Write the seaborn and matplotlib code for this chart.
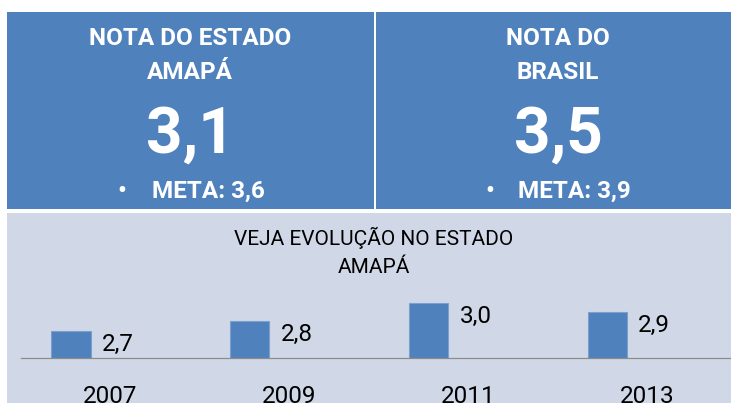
import pandas as pd
import numpy as np
import matplotlib.pyplot as plt
import seaborn as sns
from matplotlib.patches import Rectangle

# dados do painel
anos = ['2007', '2009', '2011', '2013']
notas_amapa = [2.7, 2.8, 3.0, 2.9]
series = ['Série 1', 'Série 2', 'Série 3']

nota_estado = '3,1'
meta_estado = 'META: 3,6'
nota_brasil = '3,5'
meta_brasil = 'META: 3,9'

df = pd.DataFrame({'Ano': anos, 'Nota': notas_amapa, 'Série': series[0]})

sns.set_style('white')
plt.rcParams['font.family'] = ['Roboto', 'DejaVu Sans']

W, H = 731, 403
fig = plt.figure(figsize=(W / 100, H / 100), dpi=100)
fig.patch.set_facecolor('white')

azul = '#4F81BD'
cinza = '#D0D8E8'


def fx(px):
    return px / W


def fy(py):
    return 1 - py / H


# caixas de fundo
fig.add_artist(Rectangle((fx(7), fy(209)), fx(367), 197 / H, transform=fig.transFigure,
                         facecolor=azul, edgecolor='none', zorder=-5))
fig.add_artist(Rectangle((fx(376), fy(209)), fx(370), 197 / H, transform=fig.transFigure,
                         facecolor=azul, edgecolor='none', zorder=-5))
fig.add_artist(Rectangle((fx(7), fy(410)), fx(730), 197 / H, transform=fig.transFigure,
                         facecolor=cinza, edgecolor='none', zorder=-5))

# textos das caixas azuis
for cx, l1, l2, nota, meta, bx, tx in [
    (190, 'NOTA DO ESTADO', 'AMAPÁ', nota_estado, meta_estado, 121.5, 152),
    (558, 'NOTA DO', 'BRASIL', nota_brasil, meta_brasil, 490, 518),
]:
    fig.text(fx(cx), fy(45), l1, color='white', fontsize=17.5, fontweight='bold',
             ha='center', va='baseline')
    fig.text(fx(cx), fy(79), l2, color='white', fontsize=17.5, fontweight='bold',
             ha='center', va='baseline')
    fig.text(fx(cx), fy(153), nota, color='white', fontsize=46, fontweight='bold',
             ha='center', va='baseline')
    fig.text(fx(bx), fy(198), '•', color='white', fontsize=17.5, fontweight='bold',
             ha='center', va='baseline')
    fig.text(fx(tx), fy(198), meta, color='white', fontsize=17.5, fontweight='bold',
             ha='left', va='baseline')

fig.text(fx(373.5), fy(245), 'VEJA EVOLUÇÃO NO ESTADO', color='black', fontsize=15,
         ha='center', va='baseline')
fig.text(fx(373.5), fy(273), 'AMAPÁ', color='black', fontsize=15,
         ha='center', va='baseline')

# gráfico de barras
ax = fig.add_axes([fx(21), 1 - 357.7 / H, 715.6 / W, 73.5 / H])
ax.patch.set_alpha(0)
sns.barplot(data=df, x='Ano', y='Nota', hue='Série', hue_order=series,
            palette={s: azul for s in series}, width=0.666, dodge=True, saturation=1,
            edgecolor='#7BA0CD', linewidth=0.8, legend=False, ax=ax)

ax.set_ylim(2.41, 3.2)
ax.set_xlim(-0.5, 3.5)
ax.set_xlabel('')
ax.set_ylabel('')
ax.set_yticks([])
sns.despine(ax=ax, left=True)
ax.spines['bottom'].set_color('#8C8C8C')
ax.spines['bottom'].set_linewidth(0.9)

ax.set_xticks(np.arange(-0.5, 4, 1))
ax.set_xticklabels([])
ax.tick_params(axis='x', which='major', length=6, width=0.9, color='#8C8C8C', direction='out')
ax.set_xticks(range(len(anos)), minor=True)
ax.set_xticklabels(anos, minor=True)
ax.tick_params(axis='x', which='minor', length=0, pad=20, labelsize=17.5, labelcolor='black')

for cont in ax.containers:
    for bar in cont:
        h = bar.get_height()
        if not np.isfinite(h) or h == 0:
            continue
        ax.annotate(f'{h:.1f}'.replace('.', ','), xy=(bar.get_x() + bar.get_width(), h),
                    xytext=(11, -20), textcoords='offset pixels', ha='left', va='baseline',
                    fontsize=17.5, color='black', annotation_clip=False)

fig.savefig('out.png', dpi=100)
